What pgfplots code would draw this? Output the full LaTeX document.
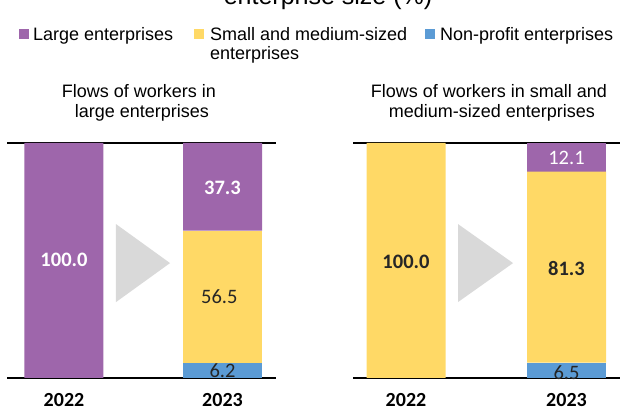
\documentclass[border=0pt]{standalone}
\usepackage{pgfplots}
\pgfplotsset{compat=1.18}
\usepackage{fontspec}
\setmainfont{Liberation Sans}
\newfontfamily\carlito{Carlito}
\definecolor{large}{HTML}{9E66AB}
\definecolor{sme}{HTML}{FFD966}
\definecolor{nonprofit}{HTML}{5B9BD5}
\definecolor{tri}{HTML}{D9D9D9}
\definecolor{darktext}{HTML}{262626}

\pgfplotsset{
  flow/.style={
    ybar stacked,
    scale only axis,
    height=235pt,
    ymin=0, ymax=100,
    enlargelimits=false,
    axis line style={draw=none},
    xtick={0,1}, xticklabels={2022,2023},
    ytick=\empty,
    major tick length=0pt,
    x tick label style={font=\carlito\bfseries\fontsize{20}{24}\selectfont, anchor=base, yshift=-29pt},
    bar width=79pt,
    clip=false,
  },
}
\tikzset{
  lbl/.style={font=\carlito\fontsize{20.5}{24}\selectfont, inner sep=0pt, anchor=center},
  lblb/.style={font=\carlito\bfseries\fontsize{20.5}{24}\selectfont, inner sep=0pt, anchor=center},
  txt/.style={anchor=base, inner sep=0pt, font=\fontsize{18}{21}\selectfont},
}

\begin{document}
\begin{tikzpicture}
% cut-off heading at the top
\node[anchor=base, font=\fontsize{25}{30}\selectfont] at (328pt,409pt) {enterprise size (\%)};

% legend
\fill[large] (19pt,375pt) rectangle (29pt,385pt);
\node[txt, anchor=base west] at (33pt,373pt) {Large enterprises};
\fill[sme] (194pt,375pt) rectangle (204pt,385pt);
\node[txt, anchor=base west] at (210pt,373pt) {Small and medium-sized};
\node[txt, anchor=base west] at (210pt,354pt) {enterprises};
\fill[nonprofit] (425pt,375pt) rectangle (435pt,385pt);
\node[txt, anchor=base west] at (440pt,373pt) {Non-profit enterprises};

% panel titles
\node[txt] at (139pt,316pt) {Flows of workers in};
\node[txt] at (142pt,296pt) {large enterprises};
\node[txt] at (489pt,316pt) {Flows of workers in small and};
\node[txt] at (492pt,296pt) {medium-sized enterprises};

% left panel: large enterprises
\begin{axis}[flow, at={(7pt,36pt)}, anchor=south west, width=269pt, xmin=-0.3596, xmax=1.3375]
\addplot[fill=nonprofit, draw=none] coordinates {(0,0) (1,6.2)};
\addplot[fill=sme, draw=none] coordinates {(0,0) (1,56.5)};
\addplot[fill=large, draw=none] coordinates {(0,100) (1,37.3)};
\fill[tri] (axis cs:0.328,65.5) -- (axis cs:0.669,48.9) -- (axis cs:0.328,32.3) -- cycle;
\draw[line width=1.4pt] (rel axis cs:0,0) -- (rel axis cs:1,0);
\draw[line width=1.4pt] (rel axis cs:0,1) -- (rel axis cs:1,1);
\coordinate (a1) at (axis cs:0,50.2);
\coordinate (a2) at (axis cs:1,80.9);
\coordinate (a3) at (axis cs:0.98,34.5);
\coordinate (a4) at (axis cs:1,3.0);
\end{axis}

% right panel: small and medium-sized enterprises
\begin{axis}[flow, at={(353pt,36pt)}, anchor=south west, width=267pt, xmin=-0.3302, xmax=1.3333]
\addplot[fill=nonprofit, draw=none] coordinates {(0,0) (1,6.5)};
\addplot[fill=sme, draw=none] coordinates {(0,100) (1,81.3)};
\addplot[fill=large, draw=none] coordinates {(0,0) (1,12.1)};
\fill[tri] (axis cs:0.324,65.5) -- (axis cs:0.667,48.9) -- (axis cs:0.324,32.3) -- cycle;
\draw[line width=1.4pt] (rel axis cs:0,0) -- (rel axis cs:1,0);
\draw[line width=1.4pt] (rel axis cs:0,1) -- (rel axis cs:1,1);
\coordinate (b1) at (axis cs:0,49.4);
\coordinate (b2) at (axis cs:1,93.6);
\coordinate (b3) at (axis cs:1,46.8);
\coordinate (b4) at (axis cs:1,2.1);
\end{axis}

% value labels
\node[lblb, text=white] at (a1) {100.0};
\node[lblb, text=white] at (a2) {37.3};
\node[lbl, text=darktext] at (a3) {56.5};
\node[lbl, text=darktext] at (a4) {6.2};
\node[lblb, text=darktext] at (b1) {100.0};
\node[lbl, text=white] at (b2) {12.1};
\node[lblb, text=darktext] at (b3) {81.3};
\node[lbl, text=darktext] at (b4) {6.5};

\pgfresetboundingbox
\useasboundingbox (0pt,0pt) rectangle (621pt,414pt);
\end{tikzpicture}
\end{document}
